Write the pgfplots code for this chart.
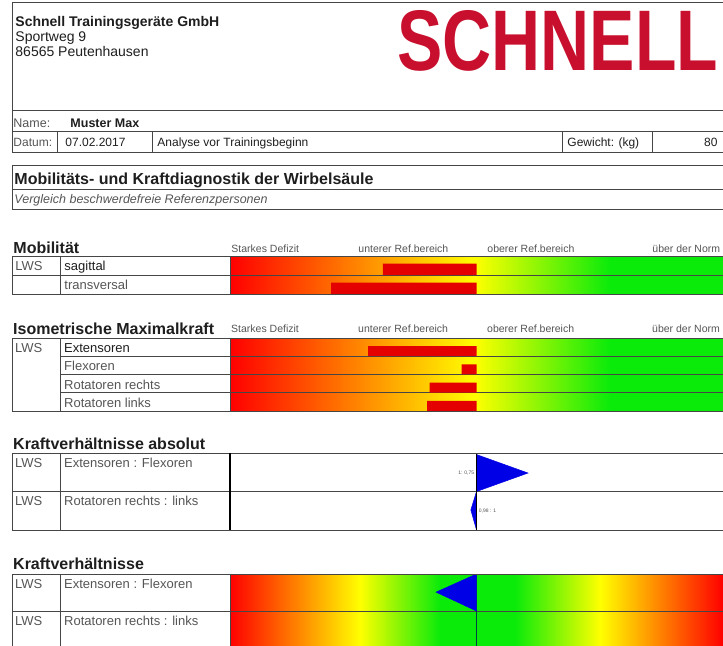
\documentclass[border=0pt]{standalone}
\usepackage{pgfplots}
\pgfplotsset{compat=1.18}
\usepackage{fontspec}
\setmainfont{Liberation Sans}
\definecolor{logored}{RGB}{200,16,46}
\definecolor{barred}{RGB}{228,0,0}
\definecolor{gr}{RGB}{10,235,10}
\definecolor{yl}{RGB}{255,255,0}
\definecolor{rd}{RGB}{255,0,0}
\definecolor{flagblue}{RGB}{0,0,230}
\definecolor{linec}{RGB}{70,70,70}
\definecolor{txt}{RGB}{30,30,30}
\definecolor{txtg}{RGB}{85,85,85}
\pgfdeclarehorizontalshading{ryg}{100bp}{color(0bp)=(rd); color(25bp)=(rd); color(49.5bp)=(yl); color(63bp)=(gr); color(75bp)=(gr); color(100bp)=(gr)}
\pgfdeclarehorizontalshading{rygyr}{100bp}{color(0bp)=(rd); color(25bp)=(rd); color(38bp)=(yl); color(46bp)=(gr); color(53.5bp)=(gr); color(62bp)=(yl); color(74.3bp)=(rd); color(100bp)=(rd)}
\newcommand\fs[1]{\fontsize{#1bp}{#1bp}\selectfont}
\pgfplotsset{
  barax/.style={
    scale only axis, width=500bp,
    xmin=-100, xmax=102.84, ymin=0, y dir=reverse,
    xtick=\empty, ytick=\empty,
    axis line style={draw=linec, line width=0.9bp},
    axis on top, clip=true,
  },
}
\begin{document}
\begin{tikzpicture}[x=1bp,y=-1bp,line width=0.9bp]
\tikzset{t/.style={anchor=base west, inner sep=0pt, text=txt}}
% ---------- header ----------
\draw[linec] (12,2) -- (740,2);
\draw[linec] (12,2) -- (12,152);
\draw[linec] (12,110) -- (740,110);
\node[t, font=\fs{14}\bfseries] at (15,27) {Schnell Trainingsgeräte GmbH};
\node[t, font=\fs{14}] at (15,42) {Sportweg 9};
\node[t, font=\fs{14}] at (15,57) {86565 Peutenhausen};
\node[anchor=north west, inner sep=0pt, text=logored] at (397,10) {\scalebox{0.79}[1]{\fs{86}\bfseries SCHNELL}};
% ---------- name / date ----------
\node[t, font=\fs{12.5}, text=txtg] at (13,128) {Name:};
\node[t, font=\fs{12.5}\bfseries] at (70,128) {Muster Max};
\draw[linec] (12,131) -- (740,131);
\draw[linec] (12,152) -- (740,152);
\foreach \x in {57,152,562,652} \draw[linec] (\x,131) -- (\x,152);
\node[t, font=\fs{12}, text=txtg] at (13,147) {Datum:};
\node[t, font=\fs{12}] at (65,147) {07.02.2017};
\node[t, font=\fs{12}] at (157,147) {Analyse vor Trainingsbeginn};
\node[t, font=\fs{12}] at (567,147) {Gewicht: (kg)};
\node[anchor=base east, inner sep=0pt, text=txt, font=\fs{12}] at (718,147) {80};
% ---------- title box ----------
\draw[linec] (12,165) -- (740,165);
\draw[linec] (12,189) -- (740,189);
\draw[linec] (12,209) -- (740,209);
\draw[linec] (12,165) -- (12,209);
\node[t, font=\fs{16}\bfseries] at (14,184.5) {Mobilitäts- und Kraftdiagnostik der Wirbelsäule};
\node[t, font=\fs{12.5}\itshape, text=txtg] at (14,203.5) {Vergleich beschwerdefreie Referenzpersonen};
% ---------- Mobilitaet ----------
\node[t, font=\fs{16}\bfseries] at (13,253) {Mobilität};
\foreach \x/\s in {231/Starkes Defizit,358/unterer Ref.bereich,487/oberer Ref.bereich,652/über der Norm}
  \node[t, font=\fs{10.5}, text=txtg] at (\x,252) {\s};
\foreach \y in {256,275,294} \draw[linec] (12,\y) -- (230,\y);
\foreach \x in {12,60} \draw[linec] (\x,256) -- (\x,294);
\node[t, font=\fs{13}, text=txtg] at (15,270) {LWS};
\node[t, font=\fs{13}] at (64,270) {sagittal};
\node[t, font=\fs{13}, text=txtg] at (64,289) {transversal};
\begin{axis}[barax, at={(230bp,-256bp)}, anchor=north west, height=38bp, ymax=2]
\fill[shading=ryg] (axis cs:-100,0) rectangle (axis cs:102.84,2);
\draw[linec, line width=0.9bp] (axis cs:-100,1) -- (axis cs:102.84,1);
\addplot[xbar, fill=barred, draw=none, bar width=0.6, bar shift=0pt] coordinates {(-38,0.7) (-59,1.7)};
\end{axis}
% ---------- Isometrische Maximalkraft ----------
\node[t, font=\fs{16}\bfseries] at (13,334) {Isometrische Maximalkraft};
\foreach \x/\s in {231/Starkes Defizit,358/unterer Ref.bereich,487/oberer Ref.bereich,652/über der Norm}
  \node[t, font=\fs{10.5}, text=txtg] at (\x,332) {\s};
\draw[linec] (12,338) -- (230,338);
\draw[linec] (12,411) -- (230,411);
\foreach \y in {356.25,374.5,392.75} \draw[linec] (60,\y) -- (230,\y);
\foreach \x in {12,60} \draw[linec] (\x,338) -- (\x,411);
\node[t, font=\fs{13}, text=txtg] at (15,352) {LWS};
\node[t, font=\fs{13}] at (64,352) {Extensoren};
\node[t, font=\fs{13}, text=txtg] at (64,370) {Flexoren};
\node[t, font=\fs{13}, text=txtg] at (64,389) {Rotatoren rechts};
\node[t, font=\fs{13}, text=txtg] at (64,407) {Rotatoren links};
\begin{axis}[barax, at={(230bp,-338bp)}, anchor=north west, height=73bp, ymax=4]
\fill[shading=ryg] (axis cs:-100,0) rectangle (axis cs:102.84,4);
\draw[linec, line width=0.9bp] (axis cs:-100,1) -- (axis cs:102.84,1);
\draw[linec, line width=0.9bp] (axis cs:-100,2) -- (axis cs:102.84,2);
\draw[linec, line width=0.9bp] (axis cs:-100,3) -- (axis cs:102.84,3);
\addplot[xbar, fill=barred, draw=none, bar width=0.55, bar shift=0pt] coordinates {(-44,0.72) (-6,1.72) (-19,2.72) (-20,3.72)};
\end{axis}
% ---------- Kraftverhaeltnisse absolut ----------
\node[t, font=\fs{16}\bfseries] at (13,449) {Kraftverhältnisse absolut};
\foreach \y in {453,491.5,530} \draw[linec] (12,\y) -- (230,\y);
\foreach \x in {12,60} \draw[linec] (\x,453) -- (\x,530);
\node[t, font=\fs{13}, text=txtg] at (15,467) {LWS};
\node[t, font=\fs{13}, text=txtg] at (64,467) {Extensoren : Flexoren};
\node[t, font=\fs{13}, text=txtg] at (15,505) {LWS};
\node[t, font=\fs{13}, text=txtg] at (64,505) {Rotatoren rechts : links};
\begin{axis}[barax, at={(230bp,-453bp)}, anchor=north west, height=77bp, ymax=2]
\draw[linec, line width=0.9bp] (axis cs:-100,1) -- (axis cs:102.84,1);
\addplot[fill=flagblue, draw=flagblue, line width=0.5bp] coordinates {(0,0.04) (20.9,0.52) (0,1)};
\addplot[fill=flagblue, draw=flagblue, line width=0.5bp] coordinates {(0,1) (-2.3,1.48) (0,2)};
\draw[black, line width=1bp] (axis cs:0,0) -- (axis cs:0,2);
\node[anchor=east, inner sep=1pt, font=\fs{5}, text=txtg] at (axis cs:-0.5,0.52) {1: 0,75};
\node[anchor=west, inner sep=1pt, font=\fs{5}, text=txtg] at (axis cs:0.5,1.5) {0,98 : 1};
\end{axis}
\draw[black, line width=1.2bp] (230,453) -- (230,530);
% ---------- Kraftverhaeltnisse ----------
\node[t, font=\fs{16}\bfseries] at (13,569) {Kraftverhältnisse};
\foreach \y in {574,611,648} \draw[linec] (12,\y) -- (230,\y);
\foreach \x in {12,60} \draw[linec] (\x,574) -- (\x,648);
\node[t, font=\fs{13}, text=txtg] at (15,588) {LWS};
\node[t, font=\fs{13}, text=txtg] at (64,588) {Extensoren : Flexoren};
\node[t, font=\fs{13}, text=txtg] at (15,625) {LWS};
\node[t, font=\fs{13}, text=txtg] at (64,625) {Rotatoren rechts : links};
\begin{axis}[barax, at={(230bp,-574bp)}, anchor=north west, height=74bp, ymax=2]
\fill[shading=rygyr] (axis cs:-100,0) rectangle (axis cs:102.84,2);
\draw[linec, line width=0.9bp] (axis cs:-100,1) -- (axis cs:102.84,1);
\draw[teal!50!black, line width=0.8bp] (axis cs:0,0) -- (axis cs:0,2);
\addplot[fill=flagblue, draw=flagblue, line width=0.5bp] coordinates {(0,0) (-16.4,0.49) (0,1)};
\end{axis}
\pgfresetboundingbox
\path[use as bounding box] (0,0) rectangle (723,646);
\end{tikzpicture}
\end{document}
